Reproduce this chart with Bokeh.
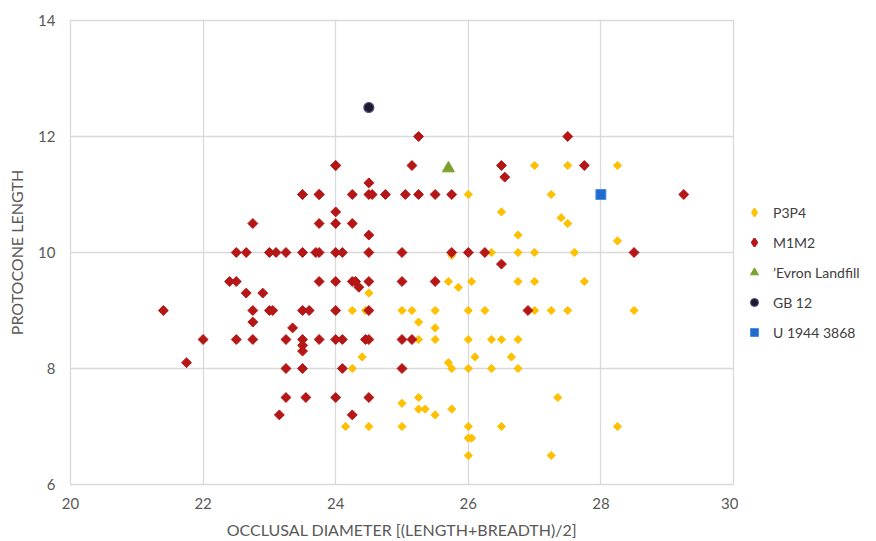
import math
from bokeh.plotting import figure
from bokeh.layouts import row
from bokeh.models import FixedTicker, Legend, LegendItem, Range1d
from bokeh.embed import file_html
from bokeh.resources import INLINE

# Occlusal diameter (x) and protocone length (y) per tooth group
p3p4_x = [26.0, 26.5, 26.75, 25.75, 26.35, 26.75, 25.7, 25.85, 26.05, 26.75,
          24.5, 24.25, 24.45, 25.0, 25.15, 25.5, 26.0, 26.25, 25.25, 25.5,
          25.25, 25.5, 26.0, 26.35, 26.5, 26.75, 24.4, 26.1, 26.65, 24.25,
          26.0, 26.35, 26.75, 25.7, 25.75, 25.25, 25.0, 25.25, 25.35, 25.5,
          25.75, 24.15, 24.5, 25.0, 26.0, 26.5, 26.0, 26.05, 26.0, 27.0,
          27.5, 28.25, 27.25, 27.4, 27.5, 28.25, 27.0, 27.6, 27.0, 27.75,
          27.0, 27.25, 27.5, 28.5, 27.35, 28.25, 27.25, 23.5]
p3p4_y = [11.0, 10.7, 10.3, 9.95, 10.0, 10.0, 9.5, 9.4, 9.5, 9.5,
          9.3, 9.0, 9.0, 9.0, 9.0, 9.0, 9.0, 9.0, 8.8, 8.7,
          8.5, 8.5, 8.5, 8.5, 8.5, 8.5, 8.2, 8.2, 8.2, 8.0,
          8.0, 8.0, 8.0, 8.1, 8.0, 7.5, 7.4, 7.3, 7.3, 7.2,
          7.3, 7.0, 7.0, 7.0, 7.0, 7.0, 6.8, 6.8, 6.5, 11.5,
          11.5, 11.5, 11.0, 10.6, 10.5, 10.2, 10.0, 10.0, 9.5, 9.5,
          9.0, 9.0, 9.0, 9.0, 7.5, 7.0, 6.5, 8.5]

m1m2_x = [24.0, 23.5, 23.75, 24.0, 22.75, 23.75, 24.0, 24.25,
          22.5, 22.65, 23.0, 23.1, 23.25, 23.5, 23.7, 23.75, 24.0, 24.1,
          24.5, 25.0, 25.75, 26.0, 26.25,
          22.4, 22.5, 23.75, 24.0, 24.25, 24.3, 24.5, 25.0, 25.5, 24.35,
          22.65, 22.9,
          21.4, 22.75, 23.0, 23.05, 23.5, 23.6, 24.0, 24.5, 26.9,
          22.75, 23.35,
          22.0, 22.5, 22.75, 23.25, 23.5, 23.75, 24.0, 24.1, 24.45, 24.5,
          25.0, 25.15,
          23.5, 23.5, 21.75,
          23.25, 23.5, 24.1, 25.0,
          23.25, 23.55, 24.0, 24.5,
          23.15, 24.25,
          25.25, 27.5,
          24.0, 25.15, 26.5, 27.75,
          26.55, 24.5,
          23.5, 23.75, 24.25, 24.5, 24.55, 24.75, 25.05, 25.25, 25.5, 25.75,
          29.25,
          24.5, 26.5, 28.5]
m1m2_y = [11.5, 11.0, 11.0, 10.7, 10.5, 10.5, 10.5, 10.5,
          10.0, 10.0, 10.0, 10.0, 10.0, 10.0, 10.0, 10.0, 10.0, 10.0,
          10.0, 10.0, 10.0, 10.0, 10.0,
          9.5, 9.5, 9.5, 9.5, 9.5, 9.5, 9.5, 9.5, 9.5, 9.4,
          9.3, 9.3,
          9.0, 9.0, 9.0, 9.0, 9.0, 9.0, 9.0, 9.0, 9.0,
          8.8, 8.7,
          8.5, 8.5, 8.5, 8.5, 8.5, 8.5, 8.5, 8.5, 8.5, 8.5,
          8.5, 8.5,
          8.4, 8.3, 8.1,
          8.0, 8.0, 8.0, 8.0,
          7.5, 7.5, 7.5, 7.5,
          7.2, 7.2,
          12.0, 12.0,
          11.5, 11.5, 11.5, 11.5,
          11.3, 11.2,
          11.0, 11.0, 11.0, 11.0, 11.0, 11.0, 11.0, 11.0, 11.0, 11.0,
          11.0,
          10.3, 9.8, 10.0]

evron_x, evron_y = [25.7], [11.45]
gb12_x, gb12_y = [24.5], [12.5]
u1944_x, u1944_y = [28.0], [11.0]

series_labels = ["P3P4", "M1M2", "\u2019Evron Landfill", "GB 12", "U 1944 3868"]

x_ticks = [20, 22, 24, 26, 28, 30]
y_ticks = [6, 8, 10, 12, 14]

FONT = "Lato"
GREY = "#595959"
GRID = "#d9d9d9"

YELLOW = "#FFC000"
RED = "#B51616"
GREEN = "#77A22C"
DARK = "#1E1A2B"
DARK_EDGE = "#5A4A8C"
BLUE = "#1F6BD0"
BLUE_EDGE = "#4F8FE0"

# ---- main scatter panel ----
p = figure(width=738, height=541, output_backend="svg", toolbar_location=None,
           x_range=Range1d(20, 30), y_range=Range1d(6, 14),
           min_border_left=70, min_border_right=5,
           min_border_top=20, min_border_bottom=55)

p.background_fill_color = "white"
p.border_fill_color = "white"
p.outline_line_color = GRID
p.outline_line_width = 1.3

for ax in (p.xaxis[0], p.yaxis[0]):
    ax.axis_line_color = None
    ax.major_tick_line_color = None
    ax.minor_tick_line_color = None
    ax.major_label_text_font = FONT
    ax.major_label_text_font_size = "15px"
    ax.major_label_text_color = GREY
    ax.axis_label_text_font = FONT
    ax.axis_label_text_font_size = "16px"
    ax.axis_label_text_font_style = "normal"
    ax.axis_label_text_color = GREY

p.xaxis.ticker = FixedTicker(ticks=x_ticks)
p.yaxis.ticker = FixedTicker(ticks=y_ticks)
p.xaxis.major_label_standoff = 7
p.yaxis.major_label_standoff = 9
p.xaxis.axis_label = "OCCLUSAL DIAMETER [(LENGTH+BREADTH)/2]"
p.yaxis.axis_label = "PROTOCONE LENGTH"
p.xaxis.axis_label_standoff = 8
p.yaxis.axis_label_standoff = 9

p.xgrid.ticker = FixedTicker(ticks=x_ticks)
p.ygrid.ticker = FixedTicker(ticks=y_ticks)
p.xgrid.grid_line_color = GRID
p.ygrid.grid_line_color = GRID
p.xgrid.grid_line_width = 1.3
p.ygrid.grid_line_width = 1.3

rot = math.pi / 4
p.scatter(x=p3p4_x, y=p3p4_y, marker="square", size=5.8, angle=rot,
          fill_color=YELLOW, line_color=YELLOW)
p.scatter(x=m1m2_x, y=m1m2_y, marker="square", size=7, angle=rot,
          fill_color=RED, line_color=RED)
p.scatter(x=evron_x, y=evron_y, marker="triangle", size=12,
          fill_color=GREEN, line_color=GREEN)
p.scatter(x=gb12_x, y=gb12_y, marker="circle", size=10,
          fill_color=DARK, line_color=DARK_EDGE, line_width=1.2)
p.scatter(x=u1944_x, y=u1944_y, marker="square", size=10,
          fill_color=BLUE, line_color=BLUE_EDGE)

# ---- legend panel on the right ----
# The key swatches reuse the series data; the panel's unit ranges keep
# those points outside its frame so only the legend glyphs show.
lg = figure(width=138, height=541, output_backend="svg", toolbar_location=None,
            title=None, x_range=Range1d(0, 1), y_range=Range1d(0, 1),
            x_axis_location=None, y_axis_location=None,
            min_border=0, outline_line_color=None)
lg.grid.visible = False
lg.background_fill_color = "white"
lg.border_fill_color = "white"

k1 = lg.scatter(x=p3p4_x, y=p3p4_y, marker="diamond", fill_color=YELLOW,
                line_color=YELLOW, line_width=1.5)
k2 = lg.scatter(x=m1m2_x, y=m1m2_y, marker="diamond", fill_color=RED,
                line_color=RED, line_width=2)
k3 = lg.scatter(x=evron_x, y=evron_y, marker="triangle", fill_color=GREEN,
                line_color=GREEN, line_width=1)
k4 = lg.scatter(x=gb12_x, y=gb12_y, marker="circle", fill_color=DARK,
                line_color=DARK_EDGE, line_width=1)
k5 = lg.scatter(x=u1944_x, y=u1944_y, marker="square", fill_color=BLUE,
                line_color=BLUE_EDGE, line_width=1)

legend = Legend(items=[LegendItem(label=lab, renderers=[r])
                       for lab, r in zip(series_labels, [k1, k2, k3, k4, k5])],
                location=(6, 142))
legend.border_line_color = None
legend.background_fill_alpha = 0
legend.padding = 0
legend.margin = 0
legend.spacing = 10
legend.label_height = 20
legend.glyph_height = 20
legend.glyph_width = 20
legend.label_standoff = 9
legend.label_text_font = FONT
legend.label_text_font_size = "14px"
legend.label_text_color = "#404040"
lg.add_layout(legend, "center")

layout = row(p, lg, spacing=0)
open("out.html", "w").write(file_html(layout, INLINE))
